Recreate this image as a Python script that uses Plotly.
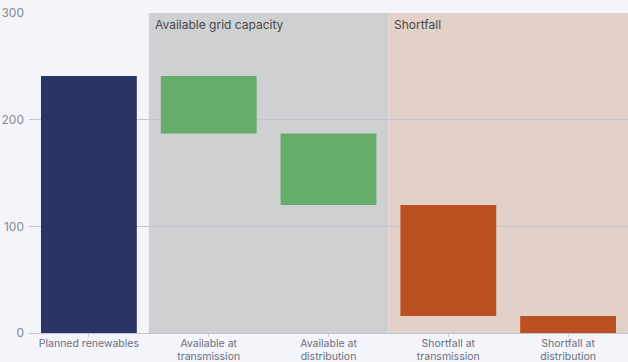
import plotly.graph_objects as go

categories = ["Planned renewables", "Available at<br>transmission", "Available at<br>distribution",
              "Shortfall at<br>transmission", "Shortfall at<br>distribution"]
bar_top = [241, 241, 187, 120, 16]
bar_bottom = [0, 187, 120, 16, 0]
bar_colors = ["#2b3467", "#66ad6c", "#66ad6c", "#bc5021", "#bc5021"]
y_ticks = [0, 100, 200, 300]
regions = [("Available grid capacity", 0.5, 2.5, "#cfd0d2"),
           ("Shortfall", 2.5, 4.5, "#e1d1c8")]

heights = [t - b for t, b in zip(bar_top, bar_bottom)]

fig = go.Figure()
fig.add_trace(go.Bar(
    x=categories, y=heights, base=bar_bottom,
    marker=dict(color=bar_colors, line=dict(width=0)),
    showlegend=False,
))

for label, x0, x1, col in regions:
    fig.add_shape(type="rect", xref="x", yref="y", x0=x0, x1=x1, y0=0, y1=300,
                  fillcolor=col, line=dict(width=0), layer="below")
    fig.add_annotation(x=x0, y=300, xref="x", yref="y", text=label, showarrow=False,
                       xanchor="left", yanchor="top", xshift=4, yshift=-2,
                       font=dict(size=12, color="#4a4a4a"))

fig.update_layout(
    width=628, height=362,
    margin=dict(l=29, r=0, t=13, b=29),
    paper_bgcolor="#f4f5fa", plot_bgcolor="#f4f5fa",
    font=dict(family="Inter, Lato, sans-serif", size=11, color="#6b6e80"),
    bargap=0.2,
)
fig.update_xaxes(range=[-0.5, 4.5], showgrid=False, ticks="outside", ticklen=3,
                 tickcolor="#c8c9d2", showline=False, automargin=False,
                 ticklabelstandoff=-3,
                 tickfont=dict(size=10.5, color="#6b6e80"))
fig.update_yaxes(range=[0, 300], tickvals=y_ticks, showgrid=True, gridcolor="#c4c5cf",
                 gridwidth=1, zeroline=True, zerolinecolor="#c4c5cf", zerolinewidth=1,
                 automargin=False,
                 tickfont=dict(size=12, color="#888a96"), ticks="", ticklabelstandoff=4)

fig.write_html("out.html")
